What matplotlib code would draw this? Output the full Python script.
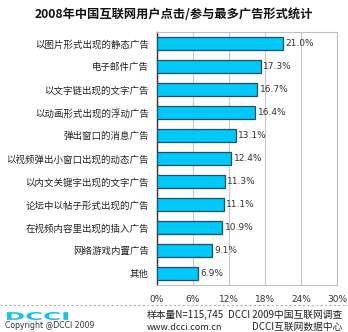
import matplotlib
matplotlib.use('Agg')
import matplotlib.pyplot as plt
from matplotlib.lines import Line2D
from matplotlib.textpath import TextPath
from matplotlib.patches import PathPatch
from matplotlib.font_manager import FontProperties
from matplotlib.transforms import Affine2D, IdentityTransform
import numpy as np

plt.rcParams['font.family'] = ['Noto Sans CJK SC', 'DejaVu Sans']

# data
categories = ['以图片形式出现的静态广告', '电子邮件广告', '以文字链出现的文字广告',
              '以动画形式出现的浮动广告', '弹出窗口的消息广告', '以视频弹出小窗口出现的动态广告',
              '以内文关键字出现的文字广告', '论坛中以帖子形式出现的广告', '在视频内容里出现的插入广告',
              '网络游戏内置广告', '其他']
values = [21.0, 17.3, 16.7, 16.4, 13.1, 12.4, 11.3, 11.1, 10.9, 9.1, 6.9]
xticks = [0, 6, 12, 18, 24, 30]

W, H = 348, 332
fig = plt.figure(figsize=(W / 100, H / 100), dpi=100)
fig.patch.set_facecolor('white')

# plot area in pixels: left 157, right 337, top 32, bottom 285
ax = fig.add_axes([157 / W, (H - 285) / H, 180 / W, 253 / H])
y = np.arange(len(categories))
ax.barh(y, values, height=0.6, color='#00c8f8', edgecolor='#1e4f6a', linewidth=0.9, zorder=3)
for yi, v in zip(y, values):
    ax.text(v + 0.4, yi, '%.1f%%' % v, va='center', ha='left', fontsize=6.5,
            color='#333333', family='DejaVu Sans')

ax.set_xlim(0, 30)
ax.set_ylim(len(categories) - 0.5, -0.5)
ax.set_xticks(xticks)
ax.set_xticklabels(['%d%%' % t for t in xticks], fontsize=6.5, color='#333333', family='DejaVu Sans')
ax.set_yticks(y)
ax.set_yticklabels(categories, fontsize=6.8, color='#222222')
ax.tick_params(axis='x', length=0, pad=7)
ax.tick_params(axis='y', length=0, pad=6)
ax.grid(axis='x', color='#c8c8c8', linewidth=0.8, zorder=0)
for side in ['top', 'right', 'bottom']:
    ax.spines[side].set_color('#c0c0c0')
    ax.spines[side].set_linewidth(0.8)
ax.spines['left'].set_color('#333333')
ax.spines['left'].set_linewidth(1.0)

# title
fig.text(0.5, 1 - 14 / H, '2008年中国互联网用户点击/参与最多广告形式统计', ha='center', va='center',
         fontsize=8.8, fontweight='bold', color='#111111')

# footer
fig.add_artist(Line2D([0, 1], [1 - 305 / H, 1 - 305 / H], transform=fig.transFigure,
                      color='#b0b0b0', linestyle=(0, (2, 2)), linewidth=0.8))

# stretched DCCI logo, box x 7..68, y 312..320 (pixels from top)
logo = TextPath((0, 0), 'DCCI', size=10, prop=FontProperties(family='DejaVu Sans', weight='bold'))
ext = logo.get_extents()
sx = (68 - 7) / ext.width
sy = (320 - 312) / ext.height
tr = Affine2D().translate(-ext.x0, -ext.y0).scale(sx, sy).translate(7, H - 320)
fig.add_artist(PathPatch(logo, transform=tr + IdentityTransform(), facecolor='#19c0f0',
                         edgecolor='none'))

fig.text(5 / W, 1 - 326 / H, 'Copyright @DCCI 2009', ha='left', va='center', fontsize=5.6,
         color='#333333', family='DejaVu Sans')
fig.text(147 / W, 1 - 315 / H, '样本量N=115,745', ha='left', va='center', fontsize=7, color='#222222')
fig.text(147 / W, 1 - 327 / H, 'www.dcci.com.cn', ha='left', va='center', fontsize=6.5, color='#222222')
fig.text(342 / W, 1 - 315 / H, 'DCCI 2009中国互联网调查', ha='right', va='center', fontsize=7, color='#222222')
fig.text(342 / W, 1 - 327 / H, 'DCCI互联网数据中心', ha='right', va='center', fontsize=7, color='#222222')

fig.savefig('out.png', dpi=100)
